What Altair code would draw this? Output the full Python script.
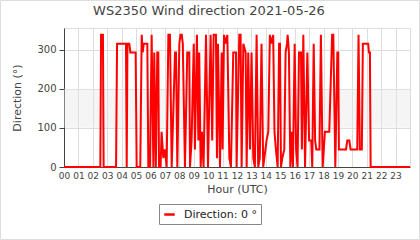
import altair as alt
import pandas as pd

# Wind direction samples: hour of day (UTC) and direction in degrees
hours = [0, 2.52, 2.57, 2.7, 2.75,
         3.61, 3.68, 4.3, 4.35, 4.4, 4.53, 4.6, 4.97, 5.04, 5.29,
         5.39, 5.46, 5.53, 5.78, 5.85, 5.96, 6.08, 6.2, 6.26, 6.37, 6.47, 6.54, 6.59, 6.7,
         6.77, 6.89, 7.0, 7.12, 7.24, 7.35, 7.47, 7.7, 7.77, 7.86, 8.0, 8.08, 8.17, 8.24,
         8.39, 8.55, 8.69, 8.74,
         8.85, 9.0, 9.08, 9.22, 9.32, 9.38, 9.48, 9.57, 9.68, 9.85, 9.99, 10.17, 10.28,
         10.38, 10.54, 10.61, 10.68, 10.82, 10.94, 11.0, 11.1, 11.21, 11.33, 11.47, 11.58,
         11.74, 11.93, 11.97,
         12.16, 12.25, 12.32, 12.44, 12.6, 12.67, 12.78, 12.9, 13.01, 13.13, 13.24, 13.36,
         13.47, 13.58, 13.7, 13.82, 14.05, 14.17, 14.28, 14.4, 14.51, 14.6, 14.7, 14.82,
         14.92, 14.98, 15.05, 15.14, 15.28, 15.37, 15.47, 15.51, 15.56, 15.6, 15.7, 15.79,
         15.88, 16.0, 16.1, 16.2, 16.3, 16.44, 16.5, 16.6, 16.72, 16.88, 17.0, 17.15, 17.22,
         17.32, 17.42, 17.5, 17.72, 17.82, 17.94, 18.1, 18.4, 18.6, 18.68, 18.82, 18.96,
         19.02, 19.07, 19.56, 19.65, 19.79, 19.88, 20.34, 20.43, 20.52, 20.66, 20.73, 21.1,
         21.15, 21.22, 21.27, 24]
directions = [0, 0, 337.5, 337.5, 0,
              0, 315, 315, 0, 315, 315, 292.5, 292.5, 0, 0,
              337.5, 292.5, 315, 315, 0, 0, 337.5, 0, 292.5, 0, 292.5, 292.5, 0, 0,
              90, 22.5, 45, 0, 337.5, 337.5, 0, 292.5, 292.5, 0, 315, 337.5, 337.5, 315,
              0, 292.5, 292.5, 0,
              67.5, 315, 45, 337.5, 67.5, 292.5, 0, 90, 0, 337.5, 0, 337.5, 67.5,
              337.5, 337.5, 22.5, 315, 0, 292.5, 45, 337.5, 315, 337.5, 22.5, 0,
              292.5, 292.5, 0,
              337.5, 337.5, 0, 315, 292.5, 0, 292.5, 45, 292.5, 22.5, 0, 337.5,
              0, 22.5, 315, 0, 67.5, 90, 337.5, 315, 337.5, 90, 45, 0,
              315, 315, 0, 22.5, 45, 292.5, 315, 337.5, 315, 292.5, 0, 90,
              0, 315, 45, 0, 292.5, 292.5, 45, 337.5, 0, 292.5, 67.5, 67.5, 0,
              315, 67.5, 45, 45, 337.5, 0, 90, 90, 337.5, 337.5, 0, 292.5,
              292.5, 45, 45, 67.5, 67.5, 45, 45, 337.5, 45, 45, 315, 315,
              292.5, 292.5, 0, 0]
series_name = "Direction: 0 °"

band_low = [100]
band_high = [200]

hour_ticks = list(range(24))
direction_ticks = [0, 100, 200, 300]

FONT = "DejaVu Sans"
TEXT = "#444444"

df = pd.DataFrame({"hour": hours, "direction": directions, "series": series_name})
band_df = pd.DataFrame({"lo": band_low, "hi": band_high})

x_scale = alt.Scale(domain=[0, 24], nice=False, zero=False)
y_scale = alt.Scale(domain=[0, 355], nice=False)

band = alt.Chart(band_df).mark_rect(color="#e6e6e6", opacity=0.4).encode(
    y=alt.Y("lo:Q", scale=y_scale),
    y2="hi:Q",
)

line = alt.Chart(df).mark_line(strokeWidth=2, interpolate="linear").encode(
    x=alt.X("hour:Q", scale=x_scale,
            axis=alt.Axis(values=hour_ticks, format="02d", title="Hour (UTC)",
                          ticks=False, labelPadding=4, labelFontSize=9,
                          labelFont=FONT, labelColor=TEXT, titleFont=FONT,
                          titleFontSize=11, titleFontWeight="normal", titleColor=TEXT,
                          titlePadding=3, domainColor="#444444", gridColor="#dddddd",
                          labelFlush=False)),
    y=alt.Y("direction:Q", scale=y_scale,
            axis=alt.Axis(values=direction_ticks, title="Direction (°)", tickSize=5,
                          tickColor="#444444", labelFontSize=10, labelFont=FONT,
                          labelColor=TEXT, titleFont=FONT, titleFontSize=11,
                          titleFontWeight="normal", titleColor=TEXT, titlePadding=14,
                          domainColor="#444444", gridColor="#dddddd", labelPadding=3)),
    color=alt.Color("series:N", scale=alt.Scale(range=["#ff0000"]),
                    legend=alt.Legend(title=None, orient="none", legendX=95, legendY=176,
                                      symbolType="stroke", symbolSize=110,
                                      symbolStrokeWidth=2.5, labelFont=FONT,
                                      labelFontSize=11, labelColor="#222222",
                                      strokeColor="#888888", padding=4,
                                      labelOffset=8)),
)

frame = alt.Chart(pd.DataFrame({"k": [0]})).mark_rect(
    fill=None, stroke="#dddddd", strokeWidth=1
).encode(
    x=alt.value(-63.5), x2=alt.value(355.5), y=alt.value(-27.5), y2=alt.value(211.5)
)

chart = alt.layer(band, line, frame).properties(
    width=346, height=139,
    title=alt.TitleParams("WS2350 Wind direction 2021-05-26", font=FONT, fontSize=13,
                          fontWeight="normal", color=TEXT, anchor="middle",
                          frame="group", offset=0, dx=-28, dy=28,
                          baseline="alphabetic"),
    autosize=alt.AutoSizeParams(type="none"),
    padding={"left": 64, "top": 28, "right": 10, "bottom": 73},
).configure_view(stroke=None).configure(background="white")

chart.save("out.html", embed_options={"renderer": "svg", "actions": False})
